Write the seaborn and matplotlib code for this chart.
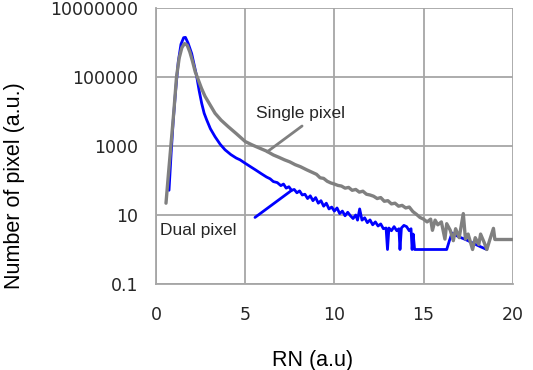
import matplotlib
matplotlib.use("Agg")
import matplotlib.pyplot as plt
import seaborn as sns
import pandas as pd

# ---------------- data ----------------
single_x = [0.56, 0.70, 0.85, 1.00, 1.15, 1.30, 1.45, 1.60, 1.75, 1.90, 2.05, 2.20,
            2.37, 2.55, 2.75, 3.00, 3.31, 3.65, 4.05, 4.50, 5.00, 5.40, 5.80, 6.20,
            6.58, 6.90, 7.20, 7.50, 7.80, 8.10, 8.45, 8.70, 9.00, 9.20, 9.40, 9.60,
            9.80, 10.00, 10.20, 10.40, 10.60, 10.80, 11.00, 11.20, 11.40, 11.60, 11.80,
            12.00, 12.20, 12.40, 12.60, 12.80, 13.00, 13.20, 13.40, 13.60, 13.80, 14.00,
            14.20, 14.40, 14.60, 14.80, 15.00, 15.20, 15.40, 15.50, 15.65, 15.80, 16.00,
            16.20, 16.30, 16.50, 16.67, 16.80, 17.00, 17.23, 17.35, 17.50, 17.75, 17.90,
            18.10, 18.20, 18.40, 18.55, 18.70, 18.92, 19.00, 20.00]
single_y = [22, 160, 1260, 10000, 100000, 355000, 708000, 933000, 832000, 525000, 282000, 141000,
            83000, 47000, 27500, 16600, 8900, 5600, 3630, 2290, 1350, 1070, 870, 710,
            550, 468, 398, 347, 288, 251, 204, 178, 151, 120, 115, 95,
            85, 79, 72, 69, 60, 63, 52, 55, 46, 49, 40,
            38, 35, 30, 32, 25, 26, 21, 22, 18, 19, 16,
            17, 12.6, 10.5, 8.5, 7.6, 6.3, 7.6, 3.6, 7.1, 5.2, 6.3,
            2.0, 5.6, 3.6, 1.8, 4.0, 2.2, 11.0, 2.0, 2.8, 1.0, 2.2,
            1.4, 2.8, 1.6, 1.0, 1.8, 4.1, 1.95, 1.95]

dual_x = [0.73, 0.85, 0.97, 1.10, 1.25, 1.40, 1.55, 1.65, 1.80, 2.00, 2.14, 2.28,
          2.42, 2.56, 2.70, 2.84, 3.05, 3.31, 3.60, 3.87, 4.20, 4.50, 4.71, 5.00,
          5.30, 5.60, 5.90, 6.20, 6.40, 6.58, 6.80, 7.00, 7.15, 7.30, 7.45, 7.60,
          7.75, 7.90, 8.05, 8.20, 8.35, 8.50, 8.65, 8.80, 8.95, 9.10, 9.25, 9.40,
          9.55, 9.70, 9.85, 10.00, 10.15, 10.30, 10.45, 10.60, 10.75, 10.90, 11.05,
          11.20, 11.30, 11.42, 11.55, 11.70, 11.85, 12.00, 12.15, 12.30, 12.45, 12.60,
          12.75, 12.90, 12.98, 13.06, 13.20, 13.35, 13.50, 13.62, 13.68, 13.76, 13.90,
          14.05, 14.20, 14.30, 14.36, 14.42, 14.50, 16.30, 16.45, 16.60, 16.80, 17.00,
          17.20, 17.50, 17.80, 18.20, 18.55]
dual_y = [52, 630, 5750, 40000, 282000, 891000, 1380000, 1410000, 955000, 479000, 224000, 105000,
          40000, 17400, 8900, 5750, 3160, 1860, 1120, 776, 562, 447, 398, 316,
          251, 200, 158, 126, 112, 93, 87, 71, 79, 60, 66, 52,
          55, 44, 50, 38, 40, 30, 36, 26, 32, 22, 26, 18,
          22, 15, 17, 13, 16, 11, 13, 9.5, 12, 9.5, 7.9,
          10, 7.1, 15, 7.1, 8.3, 6.0, 7.2, 5.2, 6.3, 4.8, 5.5,
          4.0, 4.2, 1.0, 4.2, 3.5, 4.6, 3.5, 4.0, 1.0, 4.2, 5.0,
          4.6, 3.5, 4.0, 1.0, 2.8, 1.0, 1.0, 1.8, 3.0, 2.6, 2.3,
          2.1, 1.8, 1.5, 1.2, 1.0]

y_ticks = [0.1, 10, 1000, 100000, 10000000]
y_tick_labels = ["0.1", "10", "1000", "100000", "10000000"]
x_ticks = [0, 5, 10, 15, 20]
x_tick_labels = ["0", "5", "10", "15", "20"]

single_label = "Single pixel"
dual_label = "Dual pixel"
single_arrow = [(8.19, 3800), (6.23, 676)]
dual_arrow = [(5.55, 8.5), (7.61, 52)]
single_text_pos = (5.59, 8900)
dual_text_pos = (0.22, 3.6)

# ---------------- plot ----------------
sns.set_style("white")
plt.rcParams['font.family'] = ['DejaVu Sans']

fig = plt.figure(figsize=(5.33, 3.70), dpi=100)
ax = fig.add_axes([156/533, 1-284/370, (512.7-156)/533, (284-8)/370])

df_dual = pd.DataFrame({"x": dual_x, "y": dual_y})
df_single = pd.DataFrame({"x": single_x, "y": single_y})

sns.lineplot(data=df_dual, x="x", y="y", color="#0000ff", lw=2.0, ax=ax,
             estimator=None, sort=False, zorder=3)
sns.lineplot(data=df_single, x="x", y="y", color="#808080", lw=2.4, ax=ax,
             estimator=None, sort=False, zorder=4)

ax.set_yscale("log")
ax.set_xlim(0, 20)
ax.set_ylim(0.1, 10000000)
ax.set_yticks(y_ticks)
ax.set_yticklabels(y_tick_labels)
ax.set_xticks(x_ticks)
ax.set_xticklabels(x_tick_labels)
ax.minorticks_off()

ax.grid(True, color="#a6a6a6", lw=1.3)
ax.set_axisbelow(True)
for s in ["top", "right"]:
    ax.spines[s].set_visible(False)
for s in ["left", "bottom"]:
    ax.spines[s].set_color("#a6a6a6")
    ax.spines[s].set_linewidth(1.3)

ax.tick_params(axis="both", which="major", direction="out", length=6, width=1.2,
               color="#a6a6a6", labelsize=12.5, labelcolor="#262626")
ax.tick_params(axis="y", pad=7)
ax.tick_params(axis="x", pad=10)

ax.set_xlabel("RN (a.u)", fontsize=15.5, family="Liberation Sans", color="#000000")
ax.set_ylabel("Number of pixel (a.u.)", fontsize=15.5, family="Liberation Sans", color="#000000")
ax.xaxis.set_label_coords((312.5-156)/(512.7-156), -(350-284)/276, transform=ax.transAxes)
ax.yaxis.set_label_coords(-(156-25)/(512.7-156), (284-186)/276, transform=ax.transAxes)

ax.plot([single_arrow[0][0], single_arrow[1][0]], [single_arrow[0][1], single_arrow[1][1]],
        color="#808080", lw=2.0, zorder=5)
ax.plot([dual_arrow[0][0], dual_arrow[1][0]], [dual_arrow[0][1], dual_arrow[1][1]],
        color="#0000ff", lw=2.0, zorder=5)

ax.text(single_text_pos[0], single_text_pos[1], single_label, fontsize=12.5,
        family="Liberation Sans", color="#262626", ha="left", va="center", zorder=6)
ax.text(dual_text_pos[0], dual_text_pos[1], dual_label, fontsize=12.5,
        family="Liberation Sans", color="#262626", ha="left", va="center", zorder=6)

fig.savefig("out.png", dpi=100)
